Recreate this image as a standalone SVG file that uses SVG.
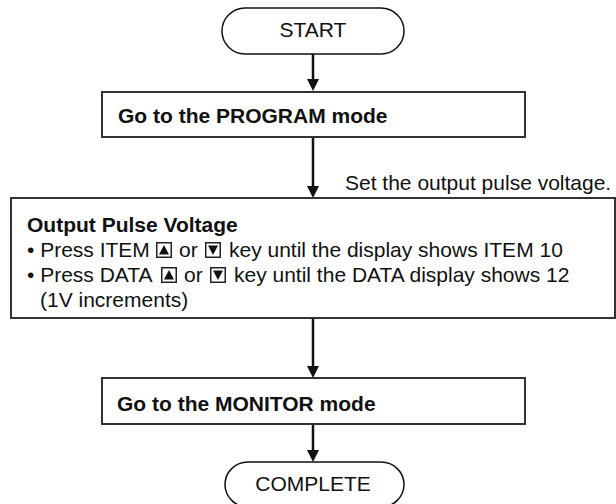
<svg xmlns="http://www.w3.org/2000/svg" width="616" height="504" viewBox="0 0 616 504">
<style>
.t{font-family:"Liberation Sans",Arial,Helvetica,sans-serif;font-size:21px;fill:#111}
.b{font-weight:bold}
.pill{fill:#fff;stroke:#111;stroke-width:1.5}
.box{fill:#fff;stroke:#333;stroke-width:2}
.con{stroke:#111;stroke-width:2.5;fill:none;marker-end:url(#ah)}
</style>
<defs>
<marker id="ah" markerWidth="12" markerHeight="12" refX="2" refY="6" orient="auto" markerUnits="userSpaceOnUse"><path d="M0,0 L12,6 L0,12 z" fill="#111"/></marker>
<g id="keyUp"><rect x="0.75" y="0.75" width="14.5" height="14.5" fill="#fff" stroke="#222" stroke-width="1.5"/><polygon points="8,3 13,12.5 3,12.5" fill="#111"/></g>
<g id="keyDown"><rect x="0.75" y="0.75" width="14.5" height="14.5" fill="#fff" stroke="#222" stroke-width="1.5"/><polygon points="3,3.5 13,3.5 8,13" fill="#111"/></g>
</defs>
<rect width="616" height="504" fill="#fff"/>
<g id="connectors">
<path class="con" d="M313,54 V81"/>
<path class="con" d="M313,137 V188"/>
<path class="con" d="M313,318 V368"/>
<path class="con" d="M313,424 V452"/>
</g>
<g id="start">
<rect class="pill" x="222" y="8" width="182" height="46" rx="23" ry="23"/>
<text class="t" x="313" y="37" text-anchor="middle">START</text>
</g>
<g id="program">
<rect class="box" x="102" y="92" width="423" height="45"/>
<text class="t b" x="118" y="123">Go to the PROGRAM mode</text>
</g>
<g id="setLabel">
<text class="t" x="345" y="190">Set the output pulse voltage.</text>
</g>
<g id="voltage">
<rect class="box" x="11" y="198" width="604" height="120"/>
<text class="t b" x="27" y="232">Output Pulse Voltage</text>
<text class="t" x="27" y="257">• Press ITEM</text>
<use href="#keyUp" x="156" y="242"/>
<text class="t" x="179" y="257">or</text>
<use href="#keyDown" x="205" y="242"/>
<text class="t" x="229" y="257">key until the display shows ITEM 10</text>
<text class="t" x="27" y="282">• Press DATA</text>
<use href="#keyUp" x="161" y="267"/>
<text class="t" x="184" y="282">or</text>
<use href="#keyDown" x="210" y="267"/>
<text class="t" x="234" y="282">key until the DATA display shows 12</text>
<text class="t" x="40" y="307">(1V increments)</text>
</g>
<g id="monitor">
<rect class="box" x="102" y="378" width="423" height="46"/>
<text class="t b" x="117" y="411">Go to the MONITOR mode</text>
</g>
<g id="complete">
<rect class="pill" x="225" y="462" width="179" height="45" rx="23" ry="23"/>
<text class="t" x="313" y="491" text-anchor="middle">COMPLETE</text>
</g>
</svg>
